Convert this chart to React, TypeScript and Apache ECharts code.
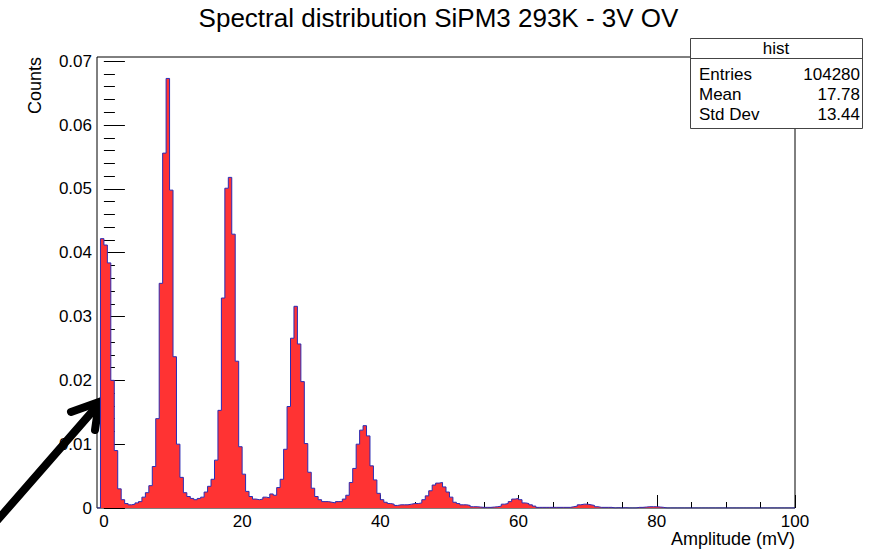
import React, { useEffect, useRef } from "react";
import * as echarts from "echarts";

// Histogram: 0.5 mV bins from -1 mV to 100 mV (normalised counts)
const BIN_WIDTH = 0.5;
const X_MIN = -1;
const X_MAX = 100;
const Y_MAX = 0.07066;

// bins -1 .. 9 mV
const binsM1to9 = [0, 0.0422, 0.0412, 0.0384, 0.02, 0.009, 0.003, 0.0013, 0.0007, 0.0005, 0.0006, 0.0008, 0.001, 0.0017, 0.0024, 0.0035, 0.0065, 0.014, 0.0352, 0.0556];
// bins 9 .. 19 mV
const bins9to19 = [0.0673, 0.0498, 0.0237, 0.01, 0.0048, 0.0024, 0.0018, 0.0015, 0.0013, 0.0015, 0.0017, 0.0025, 0.0034, 0.0045, 0.0075, 0.0153, 0.0329, 0.0501, 0.0518, 0.0429];
// bins 19 .. 29 mV
const bins19to29 = [0.023, 0.0096, 0.0053, 0.0026, 0.0018, 0.0014, 0.0013, 0.0014, 0.0017, 0.0016, 0.0022, 0.002, 0.0032, 0.0045, 0.0092, 0.0159, 0.0266, 0.0316, 0.0257, 0.0198];
// bins 29 .. 39 mV
const bins29to39 = [0.0101, 0.0056, 0.0031, 0.0018, 0.0013, 0.001, 0.001, 0.0009, 0.0008, 0.001, 0.001, 0.0014, 0.002, 0.004, 0.0062, 0.01, 0.0122, 0.0129, 0.0113, 0.0066];
// bins 39 .. 49 mV
const bins39to49 = [0.0044, 0.0023, 0.0013, 0.0009, 0.0007, 0.0006, 0.0004, 0.0005, 0.0005, 0.0005, 0.0006, 0.0007, 0.0007, 0.0008, 0.0013, 0.0019, 0.0027, 0.0036, 0.0039, 0.004];
// bins 49 .. 59 mV
const bins49to59 = [0.0033, 0.0025, 0.0017, 0.0009, 0.0007, 0.0005, 0.0005, 0.0004, 0.0002, 0.0002, 0.00015, 0.0001, 0.0001, 0.0001, 0.00015, 0.0002, 0.0003, 0.0006, 0.0007, 0.001];
// bins 59 .. 69 mV
const bins59to69 = [0.0014, 0.0015, 0.0013, 0.0008, 0.0007, 0.0005, 0.0003, 0.0001, 0.0001, 0.0001, 0.0001, 0.0001, 0.0001, 0.0001, 0.0001, 0.0001, 0.0001, 0.0002, 0.0003, 0.0005];
// bins 69 .. 79 mV
const bins69to79 = [0.0006, 0.0006, 0.0005, 0.0004, 0.0002, 0.0001, 0.0001, 0.0001, 0.0001, 0, 0.00005, 0, 0.00005, 0, 0, 0, 0.0001, 0.0001, 0.00015, 0.0002];
// bins 79 .. 89 mV
const bins79to89 = [0.0002, 0.0002, 0.00015, 0.0001, 0, 0, 0, 0, 0, 0, 0, 0, 0, 0, 0, 0, 0, 0, 0, 0];
// bins 89 .. 100 mV
const bins89to100 = [0, 0, 0, 0, 0, 0, 0, 0, 0, 0, 0, 0, 0, 0, 0, 0, 0, 0, 0, 0, 0, 0];

const segments = [
  { start: -1, values: binsM1to9 },
  { start: 9, values: bins9to19 },
  { start: 19, values: bins19to29 },
  { start: 29, values: bins29to39 },
  { start: 39, values: bins39to49 },
  { start: 49, values: bins49to59 },
  { start: 59, values: bins59to69 },
  { start: 69, values: bins69to79 },
  { start: 79, values: bins79to89 },
  { start: 89, values: bins89to100 },
];

const xLabelValues = [0, 20, 40, 60, 80, 100];
const xMinorTickValues = [0, 5, 10, 15, 20, 25, 30, 35, 40, 45, 50, 55, 60, 65, 70, 75, 80, 85, 90, 95, 100];
const yLabelValues = [0, 0.01, 0.02, 0.03, 0.04, 0.05, 0.06, 0.07];
const yMinorStep = 0.002;

const titleText = "Spectral distribution SiPM3 293K - 3V OV";
const xTitle = "Amplitude (mV)";
const yTitle = "Counts";
const statsName = "hist";
const statsLabels = ["Entries", "Mean", "Std Dev"];
const statsValues = ["104280", "17.78", "13.44"];

const FONT = "'Liberation Sans', Arial, Helvetica, sans-serif";

export default function App() {
  const ref = useRef<HTMLDivElement>(null);

  useEffect(() => {
    if (!ref.current) return;
    const chart = echarts.init(ref.current, undefined, { renderer: "svg" });

    const points: number[][] = [];
    let last = 0;
    segments.forEach((seg) => {
      seg.values.forEach((v, i) => {
        points.push([seg.start + i * BIN_WIDTH, v]);
        last = v;
      });
    });
    points.push([X_MAX, last]);

    const yMinorTicks: number[] = [];
    for (let i = 0; i * yMinorStep <= 0.0700001; i++) {
      yMinorTicks.push(Math.round(i * yMinorStep * 1000) / 1000);
    }

    const gridRect = { left: 97, right: 82, top: 57, bottom: 44 };

    const option: any = {
      animation: false,
      backgroundColor: "#ffffff",
      grid: [
        { ...gridRect, show: true, borderColor: "#000", borderWidth: 1, backgroundColor: "transparent", containLabel: false },
        { ...gridRect, show: false, containLabel: false },
      ],
      xAxis: [
        {
          type: "value",
          gridIndex: 0,
          min: X_MIN,
          max: X_MAX,
          axisLine: { show: false },
          splitLine: { show: false },
          axisTick: { show: true, inside: true, length: 6, customValues: xMinorTickValues, lineStyle: { color: "#000" } },
          axisLabel: {
            show: true,
            customValues: xLabelValues,
            margin: 5,
            color: "#000",
            fontSize: 17,
            fontFamily: FONT,
          },
        },
        {
          type: "value",
          gridIndex: 1,
          min: X_MIN,
          max: X_MAX,
          axisLine: { show: false },
          splitLine: { show: false },
          axisLabel: { show: false },
          axisTick: { show: true, inside: true, length: 13, customValues: xLabelValues, lineStyle: { color: "#000" } },
        },
      ],
      yAxis: [
        {
          type: "value",
          gridIndex: 0,
          min: 0,
          max: Y_MAX,
          axisLine: { show: false },
          splitLine: { show: false },
          axisTick: { show: true, inside: true, length: 11, customValues: yMinorTicks, lineStyle: { color: "#000" } },
          axisLabel: {
            show: true,
            customValues: yLabelValues,
            margin: 5,
            color: "#000",
            fontSize: 17,
            fontFamily: FONT,
            formatter: (v: number) => (v === 0 ? "0" : v.toFixed(2)),
          },
        },
        {
          type: "value",
          gridIndex: 1,
          min: 0,
          max: Y_MAX,
          axisLine: { show: false },
          splitLine: { show: false },
          axisLabel: { show: false },
          axisTick: { show: true, inside: true, length: 21, customValues: yLabelValues, lineStyle: { color: "#000" } },
        },
      ],
      series: [
        {
          type: "line",
          xAxisIndex: 0,
          yAxisIndex: 0,
          step: "end",
          symbol: "none",
          data: points,
          lineStyle: { color: "#2b2bb3", width: 1 },
          areaStyle: { color: "#ff3333", opacity: 1 },
          z: 2,
        },
      ],
      graphic: [
        {
          type: "text",
          x: 438.5,
          y: 18,
          style: { text: titleText, fontSize: 26, fontFamily: FONT, fill: "#000", align: "center", verticalAlign: "middle" },
        },
        {
          type: "text",
          x: 35,
          y: 57,
          rotation: Math.PI / 2,
          style: { text: yTitle, fontSize: 18, fontFamily: FONT, fill: "#000", align: "right", verticalAlign: "middle" },
        },
        {
          type: "text",
          x: 795,
          y: 539,
          style: { text: xTitle, fontSize: 18, fontFamily: FONT, fill: "#000", align: "right", verticalAlign: "middle" },
        },
        {
          type: "group",
          z: 100,
          children: [
            { type: "rect", shape: { x: 690.5, y: 38.5, width: 172, height: 90 }, style: { fill: "#fff", stroke: "#444", lineWidth: 1 } },
            { type: "line", shape: { x1: 690.5, y1: 58.5, x2: 862.5, y2: 58.5 }, style: { stroke: "#444", lineWidth: 1 } },
            { type: "text", x: 776, y: 48, style: { text: statsName, fontSize: 17, fontFamily: FONT, fill: "#000", align: "center", verticalAlign: "middle" } },
            ...statsLabels.map((t, i) => ({
              type: "text",
              x: 699,
              y: 74 + i * 20,
              style: { text: t, fontSize: 17, fontFamily: FONT, fill: "#000", align: "left", verticalAlign: "middle" },
            })),
            ...statsValues.map((t, i) => ({
              type: "text",
              x: 860,
              y: 74 + i * 20,
              style: { text: t, fontSize: 17, fontFamily: FONT, fill: "#000", align: "right", verticalAlign: "middle" },
            })),
          ],
        },
        {
          type: "group",
          z: 200,
          children: [
            { type: "line", shape: { x1: -12, y1: 531, x2: 98, y2: 405 }, style: { stroke: "#000", lineWidth: 8, lineCap: "round" } },
            {
              type: "polyline",
              shape: { points: [[71, 412], [99, 402], [95, 430]] },
              style: { stroke: "#000", lineWidth: 8, lineCap: "round", lineJoin: "miter", fill: "none" },
            },
          ],
        },
      ],
    };

    chart.setOption(option);
    return () => chart.dispose();
  }, []);

  return (
    <div
      ref={ref}
      style={{ position: "absolute", left: 0, top: 0, width: 877, height: 552, background: "#fff" }}
    />
  );
}
